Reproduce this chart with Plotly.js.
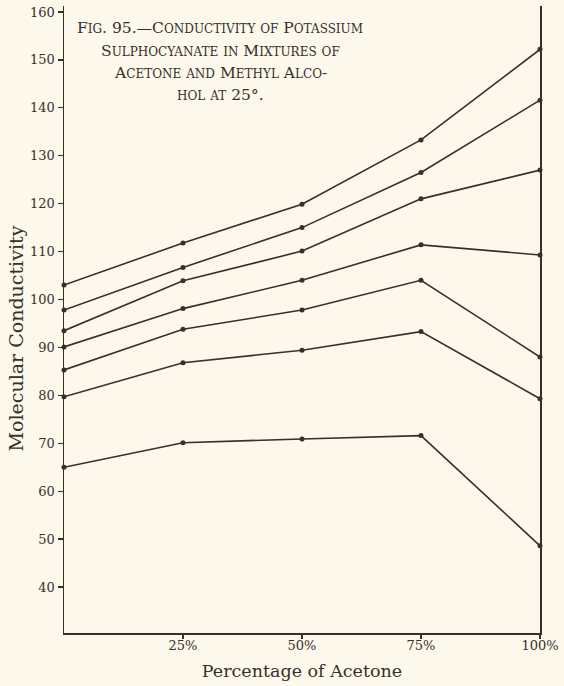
<!DOCTYPE html>
<html>
<head>
<meta charset="utf-8">
<script src="https://cdn.plot.ly/plotly-3.0.1.min.js"></script>
<style>
html,body{margin:0;padding:0;background:#fcf8ec;}
#chart{width:564px;height:686px;}
</style>
</head>
<body>
<div id="chart"></div>
<script>
// Percentage of acetone in the solvent mixture
var acetonePct = [0, 25, 50, 75, 100];
// Molecular conductivity curves (top to bottom)
var curve1 = [103.0, 111.8, 119.9, 133.3, 152.2];
var curve2 = [97.8, 106.7, 115.0, 126.5, 141.6];
var curve3 = [93.5, 103.9, 110.1, 121.0, 127.0];
var curve4 = [90.1, 98.1, 104.0, 111.4, 109.3];
var curve5 = [85.3, 93.8, 97.8, 104.0, 88.0];
var curve6 = [79.7, 86.8, 89.4, 93.3, 79.3];
var curve7 = [65.0, 70.1, 70.9, 71.6, 48.6];
var yTickVals = [40, 50, 60, 70, 80, 90, 100, 110, 120, 130, 140, 150, 160];
var xTickVals = [25, 50, 75, 100];
var xTickText = ['25%', '50%', '75%', '100%'];
var titleLines = [
  'Fig. 95.\u2014Conductivity of Potassium',
  'Sulphocyanate in Mixtures of',
  'Acetone and Methyl Alco-',
  'hol at 25\u00b0.'
];

var ink = '#36302a';
var serif = 'DejaVu Serif, Liberation Serif, serif';
var curves = [curve1, curve2, curve3, curve4, curve5, curve6, curve7];

var traces = curves.map(function (c) {
  return {
    x: acetonePct, y: c, type: 'scatter', mode: 'lines+markers',
    line: {color: ink, width: 1.6},
    marker: {color: ink, size: 5},
    cliponaxis: false, showlegend: false, hoverinfo: 'skip'
  };
});

function smallCaps(s, small) {
  var out = '';
  var i = 0;
  while (i < s.length) {
    var ch = s[i];
    if (/[a-z]/.test(ch)) {
      var j = i;
      while (j < s.length && /[a-z]/.test(s[j])) j++;
      out += '<span style="font-size:' + small + 'px">' + s.slice(i, j).toUpperCase() + '</span>';
      i = j;
    } else {
      out += ch;
      i++;
    }
  }
  return out;
}

var titleY = [28, 51, 73, 95];
var annotations = titleLines.map(function (t, k) {
  return {
    xref: 'x', yref: 'paper', x: 32.8, y: 1 - (titleY[k] - 6) / 627,
    xanchor: 'center', yanchor: 'middle', showarrow: false,
    text: smallCaps(t, 12),
    font: {family: serif, size: 15.5, color: ink}
  };
});
annotations.push({
  xref: 'paper', yref: 'paper', x: -0.1, y: 1 - (338 - 6) / 627,
  xanchor: 'center', yanchor: 'middle', showarrow: false, textangle: -90,
  text: 'Molecular Conductivity',
  font: {family: serif, size: 19, color: ink}
});

var layout = {
  width: 564, height: 686,
  margin: {l: 64, r: 24, t: 6, b: 53},
  paper_bgcolor: '#fcf8ec', plot_bgcolor: '#fcf8ec',
  font: {family: serif, color: ink},
  xaxis: {
    range: [0, 100], tickvals: xTickVals, ticktext: xTickText,
    showgrid: false, zeroline: false, showline: true, linecolor: ink, linewidth: 1.5,
    ticks: 'outside', ticklen: 4, tickcolor: ink, tickwidth: 1.2,
    ticklabelstandoff: -4,
    tickfont: {family: serif, size: 13, color: ink},
    title: {text: 'Percentage of Acetone', font: {family: serif, size: 17.5, color: ink}, standoff: 12}
  },
  yaxis: {
    range: [30.4, 161.25], tickvals: yTickVals,
    showgrid: false, zeroline: false, showline: true, mirror: true, linecolor: ink, linewidth: 1.5,
    ticks: 'outside', ticklen: 5, tickcolor: ink, tickwidth: 1.2,
    tickfont: {family: serif, size: 13, color: ink}
  },
  annotations: annotations
};

Plotly.newPlot('chart', traces, layout, {displayModeBar: false, staticPlot: true});
</script>
</body>
</html>
